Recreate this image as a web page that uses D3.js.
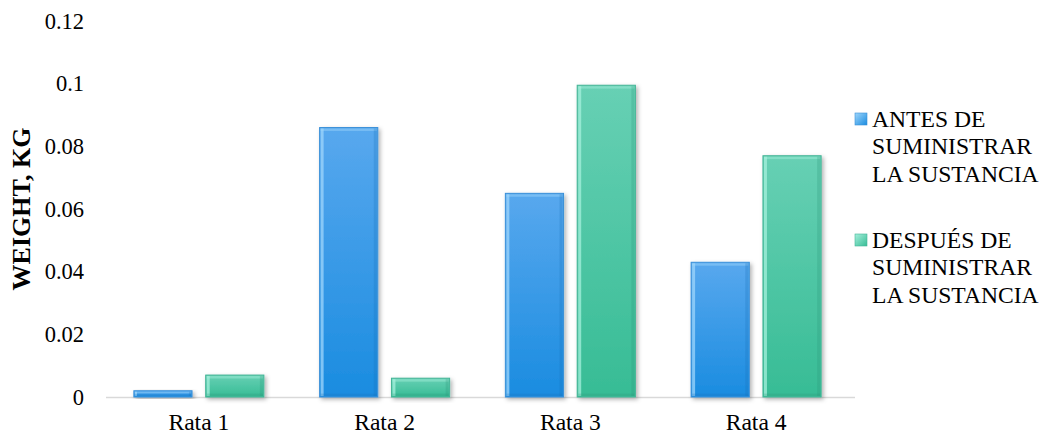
<!DOCTYPE html>
<html>
<head>
<meta charset="utf-8">
<script src="https://cdn.jsdelivr.net/npm/d3@7"></script>
<style>
  html, body { margin: 0; padding: 0; background: #fff; }
  svg { display: block; }
  svg text { font-family: "Liberation Serif", "Times New Roman", serif; }
</style>
</head>
<body>
<svg id="chart" width="1050" height="439"></svg>
<script>
// Rat weights before and after the substance was given
const categories = ["Rata 1", "Rata 2", "Rata 3", "Rata 4"];
const seriesNames = ["ANTES DE SUMINISTRAR LA SUSTANCIA", "DESPUÉS DE SUMINISTRAR LA SUSTANCIA"];
const antes = [0.002, 0.086, 0.065, 0.043];
const despues = [0.007, 0.006, 0.0995, 0.077];
const yTicks = [0, 0.02, 0.04, 0.06, 0.08, 0.1, 0.12];
const legendLines = [
  ["ANTES DE", "SUMINISTRAR", "LA SUSTANCIA"],
  ["DESPUÉS DE", "SUMINISTRAR", "LA SUSTANCIA"]
];

const seriesValues = [antes, despues];
const palette = [
  { top: "#58a8ee", bottom: "#1a8ce0", edge: "#3b90d8", light: "#9fd6fb", dark: "#166fb8" },
  { top: "#67d0b4", bottom: "#37bc95", edge: "#44b496", light: "#a6f0dc", dark: "#2a9577" }
];
const FONT = "Liberation Serif, Times New Roman, serif";
const WIDEN = 1.05; // slight horizontal widening of the serif labels

const svg = d3.select("#chart");
const margin = { left: 106, right: 201, top: 21, bottom: 42 };
const W = 1050, H = 439;

const x0 = d3.scaleBand().domain(categories).range([margin.left, W - margin.right]).paddingInner(0.3).paddingOuter(0.15);
const x1 = d3.scaleBand().domain(d3.range(seriesNames.length)).range([0, x0.bandwidth()]).paddingInner(0.19);
const y = d3.scaleLinear().domain([0, 0.12]).range([H - margin.bottom, margin.top]);

const defs = svg.append("defs");
palette.forEach((p, i) => {
  const g = defs.append("linearGradient").attr("id", "grad" + i).attr("x1", 0).attr("y1", 0).attr("x2", 0).attr("y2", 1);
  g.append("stop").attr("offset", "0%").attr("stop-color", p.top);
  g.append("stop").attr("offset", "100%").attr("stop-color", p.bottom);
  const gl = defs.append("linearGradient").attr("id", "lgrad" + i).attr("x1", 0).attr("y1", 0).attr("x2", 1).attr("y2", 1);
  gl.append("stop").attr("offset", "0%").attr("stop-color", p.light);
  gl.append("stop").attr("offset", "100%").attr("stop-color", p.bottom);
});
const shadow = defs.append("filter").attr("id", "shadow").attr("x", "-20%").attr("y", "-20%").attr("width", "150%").attr("height", "150%");
shadow.append("feDropShadow").attr("dx", 2).attr("dy", 2).attr("stdDeviation", 2.2).attr("flood-color", "#000").attr("flood-opacity", 0.3);

// y axis tick labels (no axis line)
const yAxis = d3.axisLeft(y).tickValues(yTicks).tickSize(0).tickPadding(0).tickFormat(d => String(d));
const yG = svg.append("g").attr("transform", `translate(${84},0)`).call(yAxis);
yG.attr("font-family", FONT);
yG.select(".domain").remove();
yG.selectAll("text").attr("font-size", 22.5).attr("fill", "#000");

// baseline
svg.append("line")
  .attr("x1", margin.left).attr("x2", W - margin.right + 6)
  .attr("y1", y(0) + 0.5).attr("y2", y(0) + 0.5)
  .attr("stroke", "#d9d9d9").attr("stroke-width", 1.5);

// x axis category labels
const xAxis = d3.axisBottom(x0).tickSize(0).tickPadding(17);
const xG = svg.append("g").attr("transform", `translate(0,${y(0)})`).call(xAxis);
xG.attr("font-family", FONT);
xG.select(".domain").remove();
xG.selectAll("text").attr("font-size", 22.5).attr("fill", "#000")
  .attr("transform", `scale(${WIDEN},1)`);

// bars
const groups = svg.append("g").selectAll("g").data(categories).join("g")
  .attr("transform", d => `translate(${x0(d)},0)`);

seriesNames.forEach((s, si) => {
  const p = palette[si];
  const bars = groups.append("g").attr("class", "bar").datum((c, ci) => seriesValues[si][ci]);
  bars.each(function (v) {
    const g = d3.select(this);
    const bx = x1(si), bw = x1.bandwidth();
    const by = y(v), bh = y(0) - y(v);
    g.append("rect").attr("x", bx).attr("y", by).attr("width", bw).attr("height", bh)
      .attr("fill", `url(#grad${si})`).attr("stroke", p.edge).attr("stroke-width", 1)
      .attr("filter", "url(#shadow)");
    const b = Math.min(3, bh / 3);
    // bevel highlights: left and top
    g.append("rect").attr("x", bx + 1).attr("y", by + 1).attr("width", b).attr("height", Math.max(0, bh - 2))
      .attr("fill", p.light).attr("opacity", 0.75);
    g.append("rect").attr("x", bx + 1).attr("y", by + 1).attr("width", bw - 2).attr("height", b * 0.8)
      .attr("fill", p.light).attr("opacity", 0.45);
    // bevel shading: right and bottom
    g.append("rect").attr("x", bx + bw - 1 - b).attr("y", by + 1).attr("width", b).attr("height", Math.max(0, bh - 2))
      .attr("fill", p.dark).attr("opacity", 0.25);
    g.append("rect").attr("x", bx + 1).attr("y", by + bh - 1 - b * 0.8).attr("width", bw - 2).attr("height", b * 0.8)
      .attr("fill", p.dark).attr("opacity", 0.25);
  });
});

// y axis title
svg.append("text")
  .attr("transform", `translate(${30},${(y(0) + y(0.12)) / 2}) rotate(-90)`)
  .attr("text-anchor", "middle")
  .attr("font-family", FONT)
  .attr("font-size", 26).attr("font-weight", "bold")
  .text("WEIGHT, KG");

// legend
const legend = svg.append("g").attr("font-family", FONT);
const legendTop = [127, 248];
legendLines.forEach((lines, i) => {
  const p = palette[i];
  const ly = legendTop[i];
  legend.append("rect").attr("x", 855).attr("y", ly - 14).attr("width", 12).attr("height", 12)
    .attr("fill", `url(#lgrad${i})`).attr("stroke", p.edge).attr("stroke-width", 0.6);
  const t = legend.append("g").attr("transform", `translate(872,${ly}) scale(${WIDEN},1)`)
    .append("text").attr("font-family", FONT).attr("font-size", 22.5).attr("fill", "#000");
  lines.forEach((ln, k) => {
    t.append("tspan").attr("x", 0).attr("y", k * 27.4).text(ln);
  });
});
</script>
</body>
</html>
